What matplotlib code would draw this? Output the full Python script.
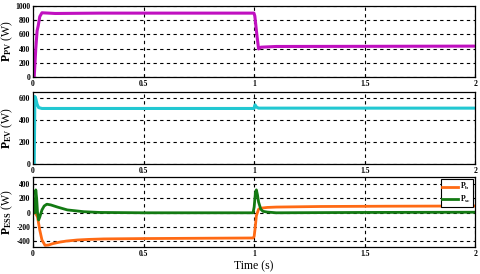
import matplotlib
matplotlib.use('Agg')
import matplotlib.pyplot as plt

plt.rcParams['font.family'] = 'Liberation Serif'
plt.rcParams['font.weight'] = 'bold'
plt.rcParams['axes.unicode_minus'] = False
plt.rcParams['mathtext.fontset'] = 'custom'
plt.rcParams['mathtext.rm'] = 'Liberation Serif:bold'
plt.rcParams['mathtext.it'] = 'Liberation Serif:bold'
plt.rcParams['mathtext.bf'] = 'Liberation Serif:bold'
plt.rcParams['mathtext.default'] = 'rm'

# PV power
t_pv = [0, 0.005, 0.012, 0.018, 0.023, 0.03, 0.04, 0.07, 0.1, 0.3, 0.6, 0.999,
        1.003, 1.012, 1.02, 1.03, 1.1, 1.5, 2.0]
p_pv = [0, 0, 400, 650, 720, 850, 905, 900, 895, 900, 900, 900,
        860, 600, 395, 420, 430, 432, 435]

# EV power
t_ev = [0, 0.005, 0.008, 0.012, 0.018, 0.025, 0.04, 0.5, 0.999, 1.004, 1.01,
        1.02, 1.5, 2.0]
p_ev = [0, 0, 610, 590, 540, 510, 502, 502, 502, 535, 515, 505, 505, 505]

# ESS powers
t_b = [0, 0.01, 0.02, 0.03, 0.04, 0.054, 0.07, 0.09, 0.12, 0.15, 0.2, 0.25,
       0.32, 0.5, 0.8, 0.995, 1.0, 1.005, 1.01, 1.02, 1.03, 1.06, 1.1, 1.3,
       1.6, 2.0]
p_b = [0, 0, -60, -240, -380, -455, -450, -430, -410, -395, -380, -372,
       -365, -360, -355, -352, -330, -200, -40, 50, 65, 75, 80, 88, 92, 95]

t_sc = [0, 0.008, 0.012, 0.016, 0.02, 0.025, 0.03, 0.04, 0.05, 0.062, 0.08,
        0.11, 0.155, 0.23, 0.3, 0.5, 0.995, 1.0, 1.006, 1.01, 1.015, 1.02,
        1.03, 1.04, 1.06, 1.1, 1.5, 2.0]
p_sc = [0, 0, 320, 200, 0, -100, -60, 40, 95, 120, 110, 80, 40, 15, 5, 0,
        0, 80, 290, 320, 250, 150, 50, 20, 10, 0, 5, 8]

x_ticks = [0, 0.5, 1, 1.5, 2]
x_labels = ['0', '0.5', '1', '1.5', '2']

fig = plt.figure(figsize=(4.8, 2.74), dpi=100)
L, W = 0.069, 0.921
ax1 = fig.add_axes([L, 0.719, W, 0.259])
ax2 = fig.add_axes([L, 0.401, W, 0.263])
ax3 = fig.add_axes([L, 0.098, W, 0.256])

ax1.plot(t_pv, p_pv, color='#C010C0', lw=2.2)
ax1.set_ylim(0, 1000)
ax1.set_yticks([0, 200, 400, 600, 800, 1000])
ax1.set_ylabel('$P_{PV}$ (W)', fontsize=8.5)

ax2.plot(t_ev, p_ev, color='#22C8D2', lw=2.2)
ax2.set_ylim(0, 650)
ax2.set_yticks([0, 200, 400, 600])
ax2.set_ylabel('$P_{EV}$ (W)', fontsize=8.5)

ax3.plot(t_b, p_b, color='#FF6A14', lw=2.0, label='$P_b$')
ax3.plot(t_sc, p_sc, color='#137A13', lw=2.0, label='$P_{sc}$')
ax3.set_ylim(-480, 500)
ax3.set_yticks([-400, -200, 0, 200, 400])
ax3.set_ylabel('$P_{ESS}$ (W)', fontsize=8.5)
ax3.set_xlabel('Time (s)', fontsize=8.5, labelpad=2)
leg = ax3.legend(loc='upper right', fontsize=5.5, frameon=True, fancybox=False,
                 edgecolor='black', handlelength=2.0, borderpad=0.25,
                 labelspacing=0.2, handletextpad=0.3, borderaxespad=0.3,
                 framealpha=1)
leg.get_frame().set_linewidth(0.8)

for ax in (ax1, ax2, ax3):
    ax.set_xlim(0, 2)
    ax.set_xticks(x_ticks)
    ax.set_xticklabels(x_labels)
    ax.tick_params(labelsize=5.5, direction='in', length=2, pad=2)
    ax.grid(True, color='black', linestyle=(0, (3, 3)), linewidth=0.8)
    ax.yaxis.set_label_coords(-0.04, 0.5)
    for s in ax.spines.values():
        s.set_linewidth(0.9)

fig.savefig('out.png', dpi=100)
